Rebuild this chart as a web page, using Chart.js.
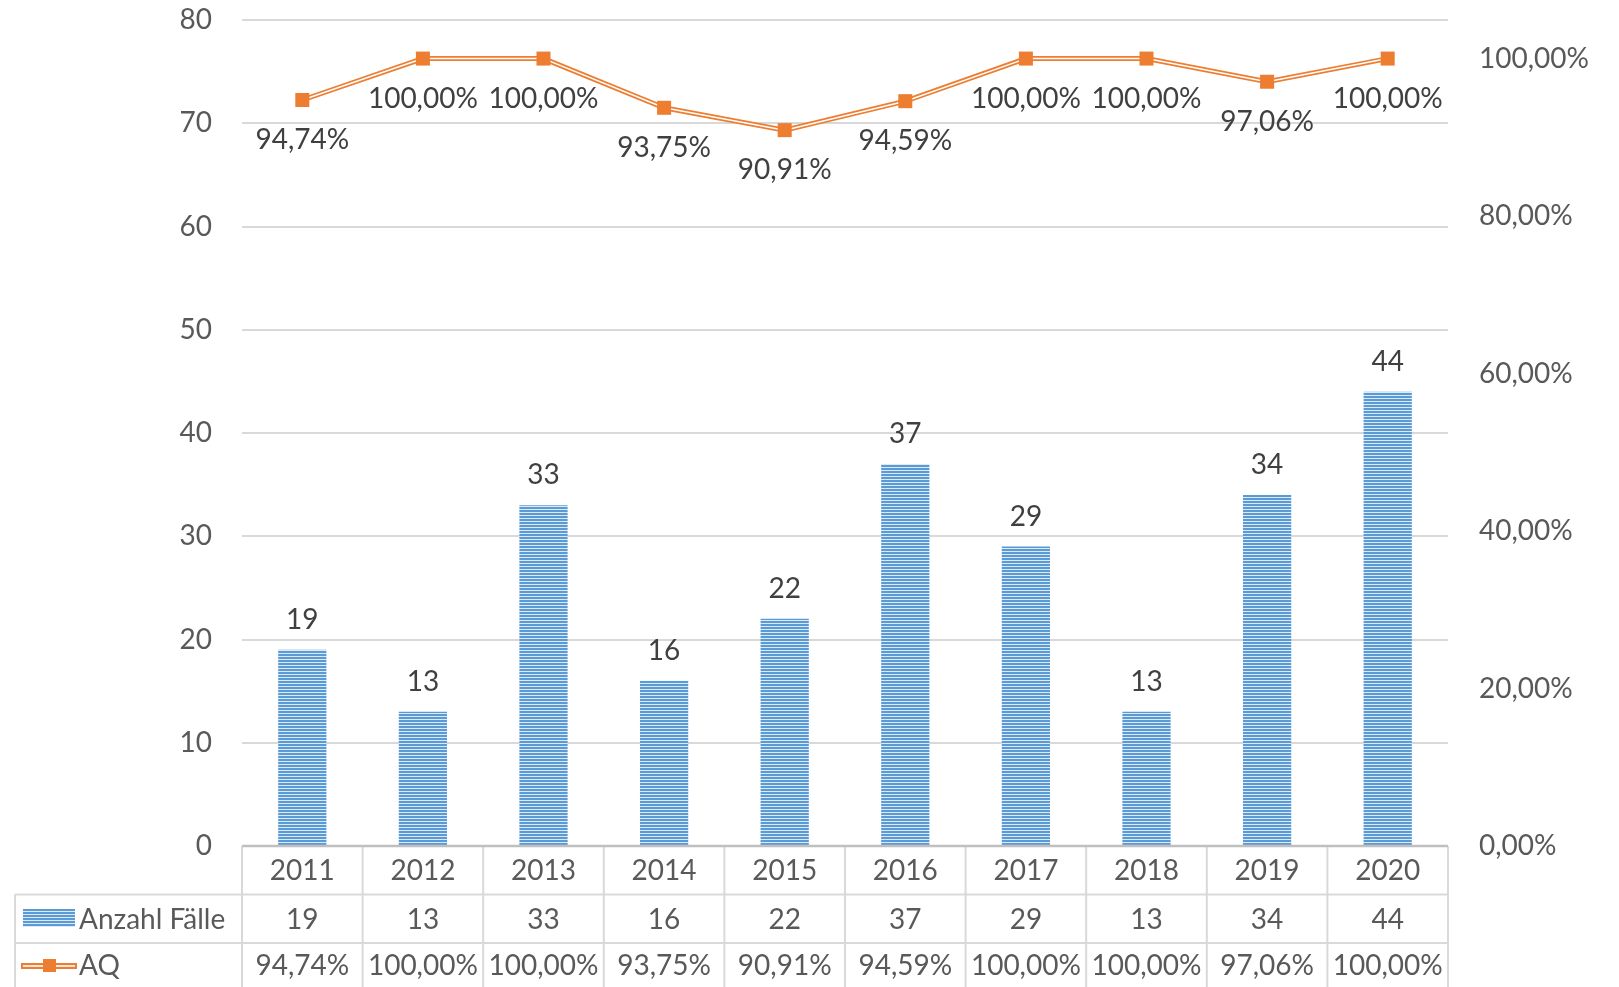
<!DOCTYPE html>
<html>
<head>
<meta charset="utf-8">
<script src="https://cdn.jsdelivr.net/npm/chart.js@4.4.1/dist/chart.umd.min.js"></script>
<style>
  html, body { margin: 0; padding: 0; background: #fff; }
  canvas { display: block; }
</style>
</head>
<body>
<canvas id="chart" width="1619" height="987"></canvas>
<script>
// Anzahl Fälle / AQ 2011-2020

const years = ['2011', '2012', '2013', '2014', '2015', '2016', '2017', '2018', '2019', '2020'];
const anzahlFaelle = [19, 13, 33, 16, 22, 37, 29, 13, 34, 44];
const aq = [94.74, 100, 100, 93.75, 90.91, 94.59, 100, 100, 97.06, 100];
const leftTicks = [0, 10, 20, 30, 40, 50, 60, 70, 80];
const rightTicks = [0, 20, 40, 60, 80, 100];

const FONT = 'Lato, "Open Sans", sans-serif';
const TEXT = '#595959';
const DARK = '#404040';
const ORANGE = '#ED7D31';
const BLUE = '#5B9BD5';
const GRID = '#D9D9D9';

function pct(v) {
  return v.toFixed(2).replace('.', ',') + '%';
}

// striped bar fill
function stripes(ctx) {
  const c = document.createElement('canvas');
  c.width = 4;
  c.height = 3;
  const p = c.getContext('2d');
  p.fillStyle = BLUE;
  p.fillRect(0, 0, 4, 2);
  p.fillStyle = '#DCE9F6';
  p.fillRect(0, 2, 4, 1);
  return ctx.createPattern(c, 'repeat');
}

// double line, square markers and value labels
const overlay = {
  id: 'overlay',
  afterDatasetsDraw(chart) {
    const ctx = chart.ctx;
    const lineMeta = chart.getDatasetMeta(1);
    const pts = lineMeta.data;
    ctx.save();
    ctx.beginPath();
    pts.forEach((p, i) => (i ? ctx.lineTo(p.x, p.y) : ctx.moveTo(p.x, p.y)));
    ctx.strokeStyle = '#fff';
    ctx.lineWidth = 1.5;
    ctx.lineJoin = 'round';
    ctx.stroke();
    ctx.fillStyle = ORANGE;
    pts.forEach(p => ctx.fillRect(p.x - 7, p.y - 7, 14, 14));

    ctx.font = '28px ' + FONT;
    ctx.fillStyle = DARK;
    ctx.textAlign = 'center';
    ctx.textBaseline = 'middle';
    pts.forEach((p, i) => ctx.fillText(pct(aq[i]), p.x, p.y + 40));
    chart.getDatasetMeta(0).data.forEach((b, i) => ctx.fillText(String(anzahlFaelle[i]), b.x, b.y - 30));
    ctx.restore();
  },
  afterDraw(chart) {
    // data table below the plot
    const ctx = chart.ctx;
    const area = chart.chartArea;
    const colW = (area.right - area.left) / years.length;
    const r0 = area.bottom;
    const r1 = r0 + 48.5;
    const r2 = r1 + 48.5;
    const r3 = chart.height + 2;
    const legendLeft = 15;
    ctx.save();
    ctx.strokeStyle = GRID;
    ctx.lineWidth = 2;
    ctx.beginPath();
    for (let i = 0; i <= years.length; i++) {
      const x = area.left + colW * i;
      ctx.moveTo(x, r0);
      ctx.lineTo(x, r3);
    }
    ctx.moveTo(legendLeft, r1);
    ctx.lineTo(area.right, r1);
    ctx.moveTo(legendLeft, r2);
    ctx.lineTo(area.right, r2);
    ctx.moveTo(legendLeft, r1);
    ctx.lineTo(legendLeft, r3);
    ctx.stroke();
    ctx.strokeStyle = '#BFBFBF';
    ctx.lineWidth = 2.5;
    ctx.beginPath();
    ctx.moveTo(area.left, r0);
    ctx.lineTo(area.right, r0);
    ctx.stroke();

    ctx.font = '28px ' + FONT;
    ctx.fillStyle = TEXT;
    ctx.textAlign = 'center';
    ctx.textBaseline = 'middle';
    years.forEach((y, i) => {
      const cx = area.left + colW * (i + 0.5);
      ctx.fillText(y, cx, (r0 + r1) / 2 + 1);
      ctx.fillText(String(anzahlFaelle[i]), cx, (r1 + r2) / 2 + 1);
      ctx.fillText(pct(aq[i]), cx, (r2 + r3) / 2);
    });

    // legend keys
    ctx.fillStyle = stripes(ctx);
    ctx.fillRect(23, 909, 52, 18);
    ctx.fillStyle = ORANGE;
    ctx.fillRect(21, 963, 56, 6);
    ctx.fillStyle = '#fff';
    ctx.fillRect(23, 965.2, 52, 1.6);
    ctx.fillStyle = ORANGE;
    ctx.fillRect(43, 959, 13, 13);
    ctx.fillStyle = TEXT;
    ctx.textAlign = 'left';
    ctx.fillText('Anzahl Fälle', 79, (r1 + r2) / 2 + 1);
    ctx.fillText('AQ', 79, (r2 + r3) / 2);
    ctx.restore();
  }
};

const ctx = document.getElementById('chart').getContext('2d');

new Chart(ctx, {
  type: 'bar',
  data: {
    labels: years,
    datasets: [
      {
        label: 'Anzahl Fälle',
        data: anzahlFaelle,
        backgroundColor: stripes(ctx),
        borderWidth: 0,
        categoryPercentage: 1,
        barPercentage: 0.4,
        yAxisID: 'y',
        order: 1,
      },
      {
        label: 'AQ',
        type: 'line',
        data: aq,
        borderColor: ORANGE,
        borderWidth: 5,
        pointRadius: 0,
        tension: 0,
        fill: false,
        yAxisID: 'y1',
        order: 0,
      },
    ],
  },
  options: {
    responsive: false,
    animation: false,
    layout: {
      padding: { top: 20, bottom: 141, left: 0, right: 0 },
    },
    plugins: {
      legend: { display: false },
      tooltip: { enabled: false },
    },
    scales: {
      x: {
        display: false,
        offset: true,
      },
      y: {
        position: 'left',
        min: 0,
        max: 80,
        afterFit(scale) {
          scale.width = 242;
          scale.paddingTop = 0;
          scale.paddingBottom = 0;
        },
        afterBuildTicks(scale) { scale.ticks = leftTicks.map(v => ({ value: v })); },
        border: { display: false },
        grid: { color: GRID, lineWidth: 2, drawTicks: false },
        ticks: {
          padding: 30,
          color: TEXT,
          font: { family: FONT, size: 28 },
        },
      },
      y1: {
        position: 'right',
        min: 0,
        max: 104.9,
        afterFit(scale) {
          scale.width = 171;
          scale.paddingTop = 0;
          scale.paddingBottom = 0;
        },
        afterBuildTicks(scale) { scale.ticks = rightTicks.map(v => ({ value: v })); },
        border: { display: false },
        grid: { display: false, drawTicks: false },
        ticks: {
          padding: 31,
          color: TEXT,
          font: { family: FONT, size: 28 },
          callback: v => pct(v),
        },
      },
    },
  },
  plugins: [overlay],
});
</script>
</body>
</html>
